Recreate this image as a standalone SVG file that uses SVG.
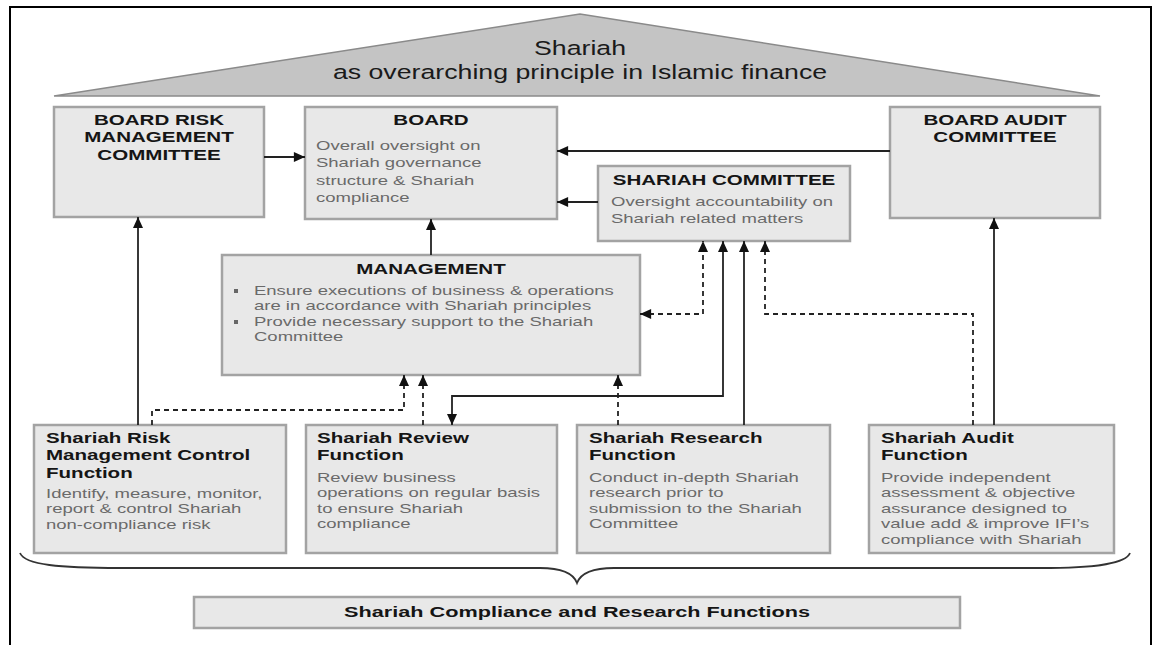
<svg xmlns="http://www.w3.org/2000/svg" width="1160" height="645" viewBox="0 0 1160 645">
<defs>
<style>
.box{fill:#e8e8e8;stroke:#a3a3a3;stroke-width:2.5}
.t{font-family:"Liberation Sans",Arial,sans-serif;font-weight:bold;font-size:15px;fill:#151515}
.b{font-family:"Liberation Sans",Arial,sans-serif;font-size:13.5px;fill:#6a6a6a}
.h{font-family:"Liberation Sans",Arial,sans-serif;font-size:19.5px;fill:#1a1a1a}
.c{fill:none;stroke:#222;stroke-width:1.8}
.d{fill:none;stroke:#222;stroke-width:1.8;stroke-dasharray:5 4}
.m{text-anchor:middle}
</style>
<marker id="ah" viewBox="0 0 10 9" refX="10" refY="4.5" markerUnits="userSpaceOnUse" markerWidth="12" markerHeight="10" orient="auto-start-reverse">
<path d="M0,0 L10,4.5 L0,9 z" fill="#111"/>
</marker>
</defs>
<rect x="0" y="0" width="1160" height="645" fill="#fff"/>
<rect x="10" y="7" width="1141" height="700" fill="#fff" stroke="#000" stroke-width="2"/>

<g id="roof">
<polygon points="54,96 580,14 1100,96" fill="#c4c4c4" stroke="#8a8a8a" stroke-width="1.5"/>
<text class="h m" transform="translate(580,55) scale(1.37,1)">Shariah</text>
<text class="h m" transform="translate(580,79) scale(1.37,1)">as overarching principle in Islamic finance</text>
</g>

<g id="brmc">
<rect class="box" x="54" y="107" width="210" height="110"/>
<text class="t m" transform="translate(159,125) scale(1.37,1)"><tspan x="0">BOARD RISK</tspan><tspan x="0" dy="17.5">MANAGEMENT</tspan><tspan x="0" dy="17.5">COMMITTEE</tspan></text>
</g>

<g id="board">
<rect class="box" x="305" y="107" width="252" height="112"/>
<text class="t m" transform="translate(431,125) scale(1.37,1)">BOARD</text>
<text class="b" transform="translate(316,150) scale(1.37,1)"><tspan x="0">Overall oversight on</tspan><tspan x="0" dy="17.5">Shariah governance</tspan><tspan x="0" dy="17.5">structure &amp; Shariah</tspan><tspan x="0" dy="17.5">compliance</tspan></text>
</g>

<g id="bac">
<rect class="box" x="890" y="107" width="210" height="111"/>
<text class="t m" transform="translate(995,125) scale(1.37,1)"><tspan x="0">BOARD AUDIT</tspan><tspan x="0" dy="17.5">COMMITTEE</tspan></text>
</g>

<g id="sc">
<rect class="box" x="598" y="166" width="252" height="75"/>
<text class="t m" transform="translate(724,185) scale(1.37,1)">SHARIAH COMMITTEE</text>
<text class="b" transform="translate(611,206) scale(1.37,1)"><tspan x="0">Oversight accountability on</tspan><tspan x="0" dy="17">Shariah related matters</tspan></text>
</g>

<g id="mgmt">
<rect class="box" x="222" y="255" width="418" height="120"/>
<text class="t m" transform="translate(431,274) scale(1.37,1)">MANAGEMENT</text>
<rect x="234" y="289" width="4" height="4" fill="#666"/>
<rect x="234" y="320" width="4" height="4" fill="#666"/>
<text class="b" transform="translate(254,295) scale(1.37,1)"><tspan x="0">Ensure executions of business &amp; operations</tspan><tspan x="0" dy="15.5">are in accordance with Shariah principles</tspan><tspan x="0" dy="15.5">Provide necessary support to the Shariah</tspan><tspan x="0" dy="15.5">Committee</tspan></text>
</g>

<g id="risk">
<rect class="box" x="34" y="425" width="252" height="128"/>
<text class="t" transform="translate(46,443) scale(1.37,1)"><tspan x="0">Shariah Risk</tspan><tspan x="0" dy="17.5">Management Control</tspan><tspan x="0" dy="17.5">Function</tspan></text>
<text class="b" transform="translate(46,498) scale(1.37,1)"><tspan x="0">Identify, measure, monitor,</tspan><tspan x="0" dy="15.5">report &amp; control Shariah</tspan><tspan x="0" dy="15.5">non-compliance risk</tspan></text>
</g>

<g id="review">
<rect class="box" x="306" y="425" width="251" height="128"/>
<text class="t" transform="translate(317,443) scale(1.37,1)"><tspan x="0">Shariah Review</tspan><tspan x="0" dy="17.5">Function</tspan></text>
<text class="b" transform="translate(317,482) scale(1.37,1)"><tspan x="0">Review business</tspan><tspan x="0" dy="15.5">operations on regular basis</tspan><tspan x="0" dy="15.5">to ensure Shariah</tspan><tspan x="0" dy="15.5">compliance</tspan></text>
</g>

<g id="research">
<rect class="box" x="577" y="425" width="253" height="128"/>
<text class="t" transform="translate(589,443) scale(1.37,1)"><tspan x="0">Shariah Research</tspan><tspan x="0" dy="17.5">Function</tspan></text>
<text class="b" transform="translate(589,482) scale(1.37,1)"><tspan x="0">Conduct in-depth Shariah</tspan><tspan x="0" dy="15.5">research prior to</tspan><tspan x="0" dy="15.5">submission to the Shariah</tspan><tspan x="0" dy="15.5">Committee</tspan></text>
</g>

<g id="audit">
<rect class="box" x="869" y="425" width="245" height="128"/>
<text class="t" transform="translate(881,443) scale(1.37,1)"><tspan x="0">Shariah Audit</tspan><tspan x="0" dy="17.5">Function</tspan></text>
<text class="b" transform="translate(881,482) scale(1.37,1)"><tspan x="0">Provide independent</tspan><tspan x="0" dy="15.5">assessment &amp; objective</tspan><tspan x="0" dy="15.5">assurance designed to</tspan><tspan x="0" dy="15.5">value add &amp; improve IFI’s</tspan><tspan x="0" dy="15.5">compliance with Shariah</tspan></text>
</g>

<g id="brace">
<path d="M20,553 C25,565 60,568 120,568 L540,568 C565,568 574,575 577,583 C580,575 589,568 614,568 L1040,568 C1100,568 1126,563 1130,553" fill="none" stroke="#333" stroke-width="1.8"/>
</g>

<g id="label">
<rect class="box" x="194" y="597" width="766" height="31"/>
<text class="t m" x="577" y="617" textLength="466" lengthAdjust="spacingAndGlyphs" style="font-size:14.5px">Shariah Compliance and Research Functions</text>
</g>

<g id="connectors">
<line class="c" x1="264" y1="157" x2="305" y2="157" marker-end="url(#ah)"/>
<line class="c" x1="890" y1="151" x2="557" y2="151" marker-end="url(#ah)"/>
<line class="c" x1="598" y1="202" x2="557" y2="202" marker-end="url(#ah)"/>
<line class="c" x1="431" y1="255" x2="431" y2="219" marker-end="url(#ah)"/>
<line class="c" x1="138" y1="425" x2="138" y2="217" marker-end="url(#ah)"/>
<line class="c" x1="994" y1="425" x2="994" y2="218" marker-end="url(#ah)"/>
<line class="c" x1="744" y1="425" x2="744" y2="241" marker-end="url(#ah)"/>
<polyline class="c" points="723,241 723,396 452,396 452,425" marker-start="url(#ah)" marker-end="url(#ah)"/>
<polyline class="d" points="152,425 152,410 404,410 404,375" marker-end="url(#ah)"/>
<line class="d" x1="423" y1="425" x2="423" y2="375" marker-end="url(#ah)"/>
<line class="d" x1="618" y1="425" x2="618" y2="375" marker-end="url(#ah)"/>
<polyline class="d" points="640,314 703,314 703,241" marker-start="url(#ah)" marker-end="url(#ah)"/>
<polyline class="d" points="973,425 973,314 765,314 765,241" marker-end="url(#ah)"/>
</g>
</svg>
